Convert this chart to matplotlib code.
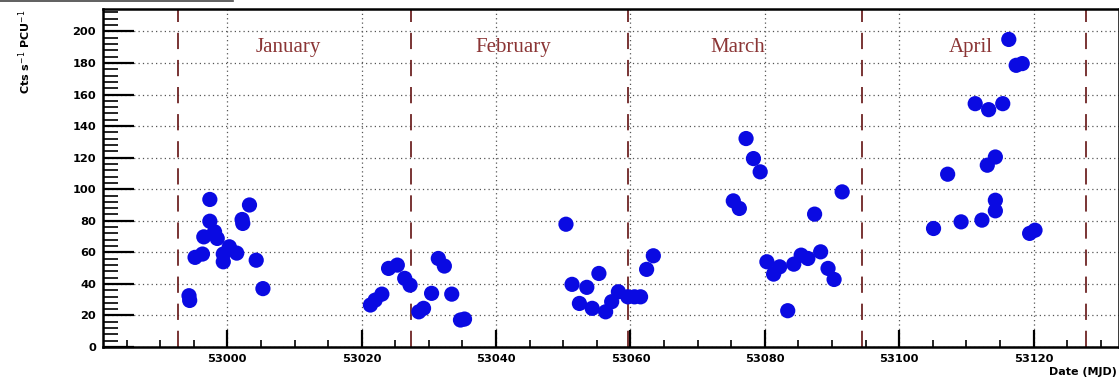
import numpy as np
import matplotlib.pyplot as plt
from matplotlib.ticker import MultipleLocator
from matplotlib.lines import Line2D

mjd = [52994.3, 52994.4, 52995.2, 52996.3, 52996.5, 52997.4, 52997.4, 52998.1,
       52998.5, 52999.4, 52999.4, 53000.3, 53001.4, 53002.2, 53002.3, 53003.3,
       53004.3, 53005.3,
       53021.3, 53022.0, 53023.0, 53024.0, 53025.3, 53026.4, 53027.2, 53028.5,
       53029.2, 53030.4, 53031.4, 53032.3, 53033.4, 53034.7, 53035.3,
       53050.4, 53051.3, 53052.4, 53053.5, 53054.3, 53055.3, 53056.3, 53057.2,
       53058.2, 53059.6, 53060.6, 53061.5, 53062.4, 53063.4,
       53075.3, 53076.2, 53077.2, 53078.3, 53079.3, 53080.3, 53081.3, 53082.2,
       53083.4, 53084.3, 53085.4, 53086.4, 53087.4, 53088.3, 53089.4, 53090.3,
       53091.5,
       53105.1, 53107.2, 53109.2, 53111.3, 53112.3, 53113.1, 53113.3, 53114.3,
       53114.3, 53114.3, 53115.4, 53116.3, 53117.4, 53118.3, 53119.4, 53120.2]
rate = [32.5, 29.5, 56.8, 58.9, 69.8, 93.5, 79.7, 73.0,
        68.8, 58.9, 54.0, 63.5, 59.5, 80.8, 78.3, 90.0,
        55.0, 37.0,
        26.6, 29.7, 33.5, 49.8, 51.9, 43.5, 39.2, 22.3,
        24.5, 34.0, 56.1, 51.3, 33.5, 17.1, 17.7,
        77.8, 39.7, 27.6, 37.8, 24.5, 46.6, 22.3, 28.7,
        35.0, 31.8, 31.8, 31.8, 49.2, 57.8,
        92.6, 87.8, 132.1, 119.4, 111.0, 54.0, 46.2, 50.8,
        23.0, 52.5, 58.2, 56.1, 84.2, 60.3, 49.8, 42.8,
        98.3,
        75.1, 109.5, 79.3, 154.2, 80.4, 115.2, 150.4, 120.4,
        93.0, 86.3, 154.2, 194.9, 178.5, 179.6, 72.0, 74.0]

month_edges = [52992.7, 53027.3, 53059.7, 53094.4, 53127.8]
month_names = ["January", "February", "March", "April"]
month_mid = [53009.1, 53042.6, 53076.0, 53110.6]

fig = plt.figure(figsize=(11.19, 3.81), dpi=100)
ax = fig.add_axes([103/1119, 34/381, 1 - 103/1119, (347 - 9.3)/381])

ax.set_xlim(52981.5, 53132.7)
ax.set_ylim(0, 214)

ax.grid(True, which="major", linestyle=(0, (1, 2.5)), color="#555555", linewidth=0.9)
ax.set_axisbelow(True)

for xe in month_edges:
    ax.axvline(xe, color="#6e2424", linestyle=(0, (9, 6)), linewidth=1.3, zorder=2)

for name, xm in zip(month_names, month_mid):
    ax.text(xm, 190, name, color="#8b3535", fontsize=15, family="Liberation Serif",
            ha="center", va="center", zorder=3)

ax.scatter(mjd, rate, s=120, color="#0a0ae2", edgecolors="none", zorder=4)

ax.xaxis.set_major_locator(MultipleLocator(20))
ax.xaxis.set_minor_locator(MultipleLocator(5))
ax.yaxis.set_major_locator(MultipleLocator(20))
ax.yaxis.set_minor_locator(MultipleLocator(4))
ax.tick_params(axis="x", which="major", direction="in", length=12, width=1.6, pad=5)
ax.tick_params(axis="x", which="minor", direction="in", length=5, width=1.2)
ax.tick_params(axis="y", which="major", direction="in", length=22, width=1.6, pad=5)
ax.tick_params(axis="y", which="minor", direction="in", length=11, width=1.2)
for lab in ax.get_xticklabels() + ax.get_yticklabels():
    lab.set_fontsize(8.2)
    lab.set_fontweight("bold")
for sp in ax.spines.values():
    sp.set_linewidth(1.8)

fig.text(25/1119, 1 - 9/381, r"Cts s$^{-1}$ PCU$^{-1}$", rotation=90, ha="center",
         va="top", fontsize=8, fontweight="bold")
fig.text(1117/1119, 1 - 372/381, "Date (MJD)", ha="right", va="center",
         fontsize=8, fontweight="bold")

fig.add_artist(Line2D([0, 233/1119], [1 - 1/381, 1 - 1/381], color="#444444", linewidth=1.2))

fig.savefig("out.png", dpi=100)
